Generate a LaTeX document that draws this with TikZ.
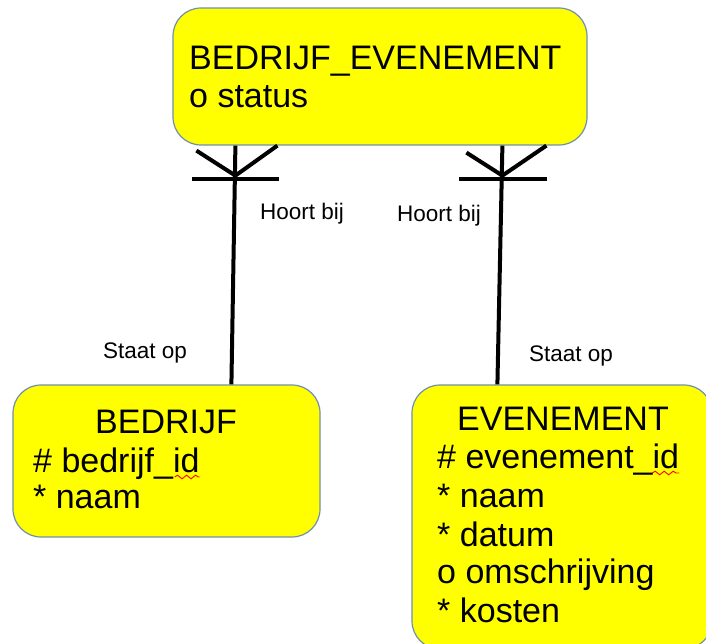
\documentclass[tikz,border=0pt]{standalone}
\usepackage{fontspec}
\setmainfont{Liberation Sans}
\usetikzlibrary{calc,decorations.pathmorphing}
\definecolor{boxblue}{HTML}{6F8FAF}
\definecolor{boxfill}{HTML}{FFFF00}
\begin{document}
\begin{tikzpicture}[x=1pt,y=-1pt,
  entity/.style={draw=boxblue, fill=boxfill, rounded corners=28pt, line width=1.2pt, inner sep=0pt},
  big/.style={font=\fontsize{34}{40}\selectfont, inner sep=0pt, anchor=base west},
  lbl/.style={font=\fontsize{22.5}{26}\selectfont, inner sep=0pt, anchor=base west},
  rel/.style={line width=4pt, black},
  squig/.style={red, line width=0.9pt, decorate, decoration={snake, amplitude=1.8pt, segment length=9pt}}]
\useasboundingbox (0,0) rectangle (706,643);
\clip (0,0) rectangle (706,643);
\fill[white] (0,0) rectangle (706,643);
% entity boxes
\node[entity, minimum width=414pt, minimum height=137pt] (be) at (380,76.5) {};
\node[entity, minimum width=307pt, minimum height=152pt] (bed) at (166.5,461) {};
\node[entity, minimum width=300pt, minimum height=264pt] (ev) at (562,517) {};
% texts top
\node[big] (bet) at (189,69) {BEDRIJF\_EVENEMENT};
\node[big] (bes) at (189,107) {o status};
% texts BEDRIJF
\node[big, anchor=base] (bedt) at (166,433) {BEDRIJF};
\node[big] (bid) at (33,472) {\# bedrijf\_id};
\node[big] (bnaam) at (33,508) {* naam};
% texts EVENEMENT
\node[big, anchor=base] (evt) at (563,430) {EVENEMENT};
\node[big] (eid) at (437,468) {\# evenement\_id};
\node[big] (enaam) at (437,507) {* naam};
\node[big] (edat) at (437,546) {* datum};
\node[big] (eoms) at (437,583) {o omschrijving};
\node[big] (ekos) at (437,622) {* kosten};
% spell-check squiggles
\draw[squig] ($(bid.base east)+(-25,5)$) -- ($(bid.base east)+(0,5)$);
\draw[squig] ($(eid.base east)+(-27,5)$) -- ($(eid.base east)+(0,5)$);
% connectors
\draw[rel] ($(be.south west)+(63,0)$) -- ($(bed.north west)+(219,0)$);
\draw[rel] ($(be.south west)+(330,0)$) -- ($(ev.north west)+(86,0)$);
% crow's feet left
\coordinate (lk) at ($(be.south west)+(63,30)$);
\draw[rel] ($(be.south west)+(24,5)$) -- (lk) -- ($(be.south west)+(105,0)$);
\draw[rel] ($(be.south west)+(20,33)$) -- ($(be.south west)+(107,33)$);
% crow's feet right
\coordinate (rk) at ($(be.south west)+(330,30)$);
\draw[rel] ($(be.south west)+(294,7)$) -- (rk) -- ($(be.south west)+(374,0)$);
\draw[rel] ($(be.south west)+(287,33)$) -- ($(be.south west)+(375,33)$);
% labels
\node[lbl] (h1) at (260,219) {Hoort bij};
\node[lbl] (h2) at (397,221) {Hoort bij};
\node[lbl] (s1) at (103,358) {Staat op};
\node[lbl] (s2) at (529,361) {Staat op};
\end{tikzpicture}
\end{document}
